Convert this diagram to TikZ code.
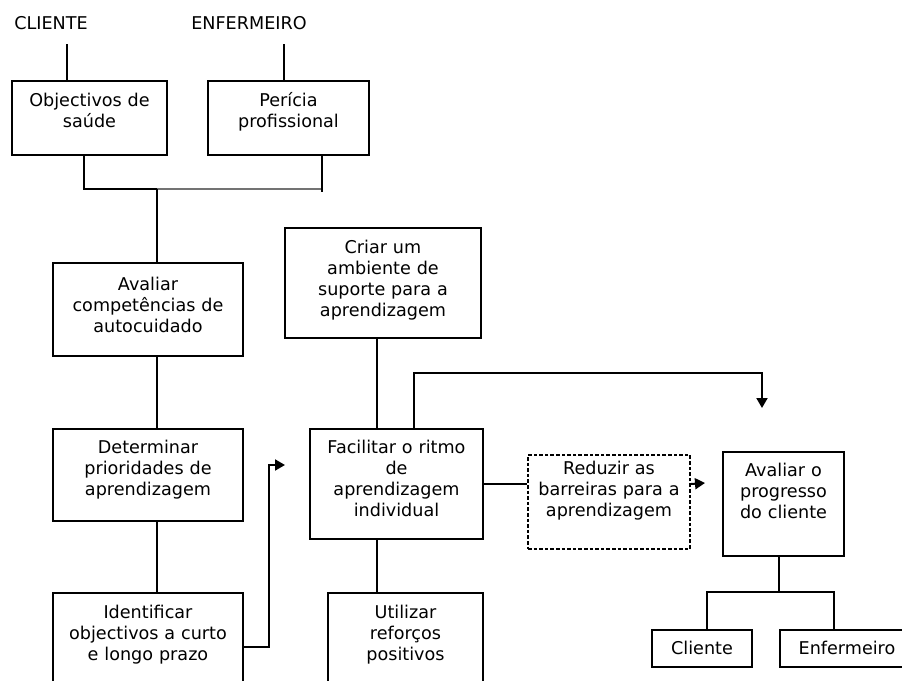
\documentclass[tikz,border=0pt]{standalone}
\usepackage{fontspec}
\setmainfont{DejaVu Sans}
\usetikzlibrary{arrows.meta}
\colorlet{cinza}{black!55}
\tikzset{
    caixa/.style={draw,line width=1pt,anchor=north west,inner sep=0pt,align=center,
        font=\fontsize{8.8}{10.6}\selectfont,text height=12.5pt},
    tracejada/.style={caixa,dash pattern=on 1.8pt off 1pt},
    titulo/.style={inner sep=0pt,font=\fontsize{8.8}{10.6}\selectfont},
    seta/.style={-{Triangle[length=5pt,width=5.5pt]}}
}

\begin{document}
\begin{tikzpicture}[x=0.5pt,y=-0.5pt,line width=1pt]
            \useasboundingbox (0,0) rectangle (902,681);
            \clip (0,0) rectangle (902,681);
            % titulos
            \node [titulo] (cliente) at (51,23) {CLIENTE};
            \node [titulo] (enfermeiro) at (249,23) {ENFERMEIRO};
            % caixas
            \node [caixa,text width=77.5pt,text depth=24.5pt] (obj) at (11,80) {Objectivos de\\saúde};
            \node [caixa,text width=80.5pt,text depth=24.5pt] (per) at (207,80) {Perícia\\profissional};
            \node [caixa,text width=95pt,text depth=33pt,text height=13.5pt] (ava) at (52,262) {Avaliar\\competências de\\autocuidado};
            \node [caixa,text width=95pt,text depth=34pt,text height=12pt] (det) at (52,428) {Determinar\\prioridades de\\aprendizagem};
            \node [caixa,text width=95pt,text depth=42.5pt] (ide) at (52,592) {Identificar\\objectivos a curto\\e longo prazo};
            \node [caixa,text width=98pt,text depth=42.5pt] (cri) at (284,227) {Criar um\\ambiente de\\suporte para a\\aprendizagem};
            \node [caixa,text width=86.5pt,text depth=43pt,text height=12pt] (fac) at (309,428) {Facilitar o ritmo\\de\\aprendizagem\\individual};
            \node [caixa,text width=77.5pt,text depth=42.5pt] (uti) at (327,592) {Utilizar\\reforços\\positivos};
            \node [tracejada,text width=81pt,text depth=37.5pt,text height=9.5pt] (red) at (527,454) {Reduzir as\\barreiras para a\\aprendizagem};
            \node [caixa,text width=60.5pt,text depth=40pt,text height=12pt] (prog) at (722,451) {Avaliar o\\progresso\\do cliente};
            \node [caixa,text width=50pt,text depth=6.5pt,text height=12pt] (cli) at (651,629) {Cliente};
            \node [caixa,text width=67pt,text depth=6.5pt,text height=12pt] (enf) at (779,629) {Enfermeiro};
            % ligacoes
            \coordinate (junta) at (157,189);
            \coordinate (ramo) at (779,592);
            \coordinate (setaa) at (762,408);
            \coordinate (setab) at (705,483);
            \coordinate (setac) at (285,465);
            \draw (obj.north -| 67,0) -- (67,44);
            \draw (per.north -| 284,0) -- (284,44);
            \draw (obj.south -| 84,0) |- (junta);
            \draw [cinza] (junta) -| (per.south -| 322,0);
            \draw (per.south -| 322,0) -- (322,192);
            \draw (junta) -- (ava.north -| junta);
            \draw (ava.south -| junta) -- (det.north -| junta);
            \draw (det.south -| junta) -- (ide.north -| junta);
            \draw [seta] (ide.east |- 0,647) -- ++(25,0) |- (setac);
            \draw (cri.south -| 377,0) -- (fac.north -| 377,0);
            \draw [seta] (fac.north -| 414,0) -- (414,373) -| (setaa);
            \draw (fac.south -| 377,0) -- (uti.north -| 377,0);
            \draw (fac.east) -- (fac.east -| red.west);
            \draw [seta] (red.east |- fac.east) -- (setab);
            \draw (prog.south -| ramo) -- (ramo);
            \draw (cli.north -| 707,0) |- (ramo) -| (enf.north -| 834,0);
        \end{tikzpicture}
\end{document}
